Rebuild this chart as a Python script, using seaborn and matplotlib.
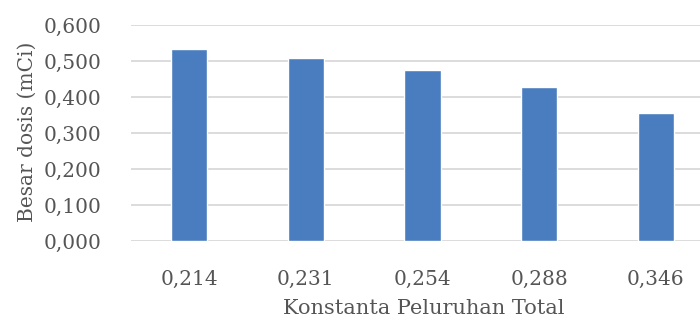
import matplotlib
matplotlib.use("Agg")
import matplotlib.pyplot as plt
import seaborn as sns
import pandas as pd

# Total decay constant (categories) and administered dose in mCi
konstanta = ["0,214", "0,231", "0,254", "0,288", "0,346"]
dosis = [0.532, 0.507, 0.474, 0.427, 0.356]
y_ticks = [0.0, 0.1, 0.2, 0.3, 0.4, 0.5, 0.6]
y_tick_labels = ["0,000", "0,100", "0,200", "0,300", "0,400", "0,500", "0,600"]

sns.set_theme(style="white")
plt.rcParams["font.family"] = ["DejaVu Serif"]

df = pd.DataFrame({"konstanta": konstanta, "dosis": dosis})

fig = plt.figure(figsize=(7.0, 3.22), dpi=100)
ax = fig.add_axes([131 / 700, 81 / 322, 583 / 700, 216 / 322])

text_color = "#555555"
grid_color = "#d9d9d9"

sns.barplot(data=df, x="konstanta", y="dosis", color="#4a7dbf",
            width=0.31, saturation=1, ax=ax, zorder=3)

ax.set_ylim(0, 0.6)
ax.set_xlim(-0.5, 4.5)
ax.set_yticks(y_ticks)
ax.set_yticklabels(y_tick_labels)
for y in y_ticks:
    ax.axhline(y, color=grid_color, linewidth=1.3, zorder=1)

for side in ["left", "right", "top", "bottom"]:
    ax.spines[side].set_visible(False)

ax.tick_params(axis="y", length=0, pad=21, labelsize=14.5, labelcolor=text_color)
ax.tick_params(axis="x", length=0, pad=21, labelsize=14.5, labelcolor=text_color)

ax.set_xlabel("Konstanta Peluruhan Total", fontsize=15, color=text_color)
ax.set_ylabel("Besar dosis (mCi)", fontsize=14.5, color=text_color)
ax.xaxis.set_label_coords(0.503, -0.27)
ax.yaxis.set_label_coords(-0.161, 0.505)

fig.savefig("out.png", dpi=100)
